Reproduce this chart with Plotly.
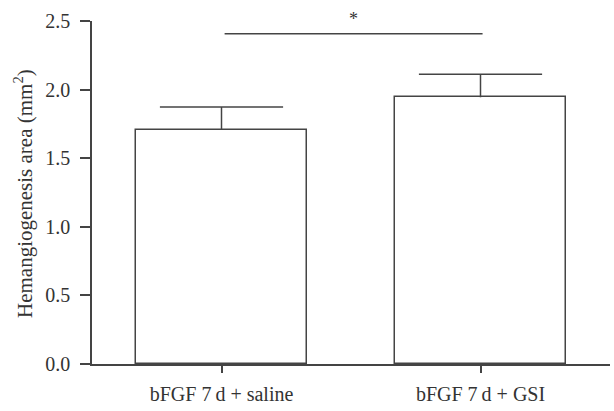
import plotly.graph_objects as go

categories = ["bFGF 7\u2009d + saline", "bFGF 7\u2009d + GSI"]
means = [1.706, 1.944]
errors = [0.167, 0.167]
sig_y = 2.407
y_ticks = [0.0, 0.5, 1.0, 1.5, 2.0, 2.5]
y_ticklabels = ["0.0", "0.5", "1.0", "1.5", "2.0", "2.5"]

FONT = "Liberation Serif"
INK = "#333333"
LINE = "#444444"

W, H = 614, 411
L, R, T, B = 92, 4, 21, 47

xs = list(range(len(categories)))
tops = [m + e for m, e in zip(means, errors)]

fig = go.Figure()
fig.add_trace(go.Bar(
    x=xs, y=means, width=0.664,
    marker=dict(color="white", line=dict(color=LINE, width=1.5)),
    showlegend=False, hoverinfo="skip",
))
# upper-only error bars: vertical stem + cap marker at the top
fig.add_trace(go.Scatter(
    x=xs, y=tops, mode="markers",
    marker=dict(symbol="line-ew", size=88, line=dict(color=LINE, width=1.5)),
    error_y=dict(type="data", array=[0] * len(errors), arrayminus=errors,
                 symmetric=False, color=LINE, thickness=1.5, width=0),
    showlegend=False, hoverinfo="skip", cliponaxis=False,
))

fig.add_shape(type="line", xref="x", yref="y", x0=0.012, x1=1.008, y0=sig_y, y1=sig_y,
              line=dict(color=LINE, width=1.5))
fig.add_annotation(x=0.51, y=sig_y, xref="x", yref="y", text="*", showarrow=False,
                   yshift=15, font=dict(family=FONT, size=18, color=INK))

plot_w = W - L - R
plot_h = H - T - B
fig.add_annotation(xref="paper", yref="paper", x=(24 - L) / plot_w, y=(H - B - 194) / plot_h,
                   text="Hemangiogenesis area (mm<sup>2</sup>)", textangle=-90,
                   showarrow=False, font=dict(family=FONT, size=21, color=INK),
                   xanchor="center", yanchor="middle")

fig.update_layout(
    width=W, height=H,
    margin=dict(l=L, r=R, t=T, b=B, pad=0),
    paper_bgcolor="white", plot_bgcolor="white",
    font=dict(family=FONT, size=20, color=INK),
    bargap=0,
)
fig.update_xaxes(range=[-0.5, 1.5], tickvals=xs, ticktext=categories,
                 showline=True, linecolor=LINE, linewidth=1.5,
                 ticks="outside", ticklen=7, tickwidth=1.5, tickcolor=LINE,
                 ticklabelstandoff=4,
                 showgrid=False, zeroline=False, fixedrange=True,
                 tickfont=dict(family=FONT, size=20, color=INK))
fig.update_yaxes(range=[0, 2.5], tickvals=y_ticks, ticktext=y_ticklabels,
                 showline=True, linecolor=LINE, linewidth=1.5,
                 ticks="outside", ticklen=10, tickwidth=1.5, tickcolor=LINE,
                 ticklabelstandoff=6,
                 showgrid=False, zeroline=False, fixedrange=True,
                 tickfont=dict(family=FONT, size=20, color=INK))

fig.write_html("out.html")
